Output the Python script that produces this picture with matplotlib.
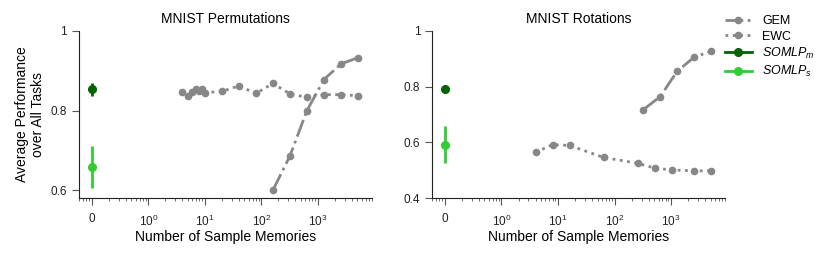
import numpy as np
import matplotlib
matplotlib.use("Agg")
import matplotlib.pyplot as plt
from matplotlib.lines import Line2D

plt.rcParams["font.family"] = ["Liberation Sans", "DejaVu Sans"]
plt.rcParams["mathtext.fontset"] = "custom"
plt.rcParams["mathtext.rm"] = "Liberation Sans"
plt.rcParams["mathtext.it"] = "Liberation Sans:italic"

# position used for the "0 memories" models on the log axis
zero_pos = 0.1

# MNIST Permutations
perm_ewc_x = [4, 5, 6, 7, 8, 9, 10, 20, 40, 80, 160, 320, 640, 1280, 2560, 5120]
perm_ewc_y = [0.847, 0.836, 0.846, 0.854, 0.848, 0.854, 0.845, 0.848, 0.862,
              0.843, 0.868, 0.842, 0.833, 0.840, 0.840, 0.837]
perm_gem_x = [160, 320, 640, 1280, 2560, 5120]
perm_gem_y = [0.600, 0.686, 0.800, 0.878, 0.917, 0.933]
perm_somlp_m = (0.853, 0.017)
perm_somlp_s = (0.659, 0.053)

# MNIST Rotations
rot_ewc_x = [4, 8, 16, 64, 256, 512, 1024, 2560, 5120]
rot_ewc_y = [0.564, 0.592, 0.589, 0.546, 0.525, 0.508, 0.501, 0.498, 0.498]
rot_gem_x = [320, 640, 1280, 2560, 5120]
rot_gem_y = [0.717, 0.764, 0.855, 0.906, 0.927]
rot_somlp_m = (0.793, 0.004)
rot_somlp_s = (0.592, 0.066)

xticks = [zero_pos, 1, 10, 100, 1000]
xticklabels = ["0", "$10^0$", "$10^1$", "$10^2$", "$10^3$"]

gray = "#878787"
dark = "#006400"
light = "#33cc33"

fig = plt.figure(figsize=(8.3, 2.6), dpi=100)
ax1 = fig.add_axes([0.095, 0.238, 0.353, 0.643])
ax2 = fig.add_axes([0.5205, 0.238, 0.353, 0.643])


def draw(ax, title, gem_x, gem_y, ewc_x, ewc_y, som_m, som_s, ylim, yticks, yticklabels):
    ax.plot(gem_x, gem_y, "-.", color=gray, marker="o", markersize=4.5, lw=2)
    ax.plot(ewc_x, ewc_y, ":", color=gray, marker="o", markersize=4.5, lw=2)
    ax.errorbar([zero_pos], [som_m[0]], yerr=[som_m[1]], fmt="o", color=dark,
                markersize=5.5, elinewidth=2)
    ax.errorbar([zero_pos], [som_s[0]], yerr=[som_s[1]], fmt="o", color=light,
                markersize=5.5, elinewidth=2)
    ax.set_xscale("log")
    ax.set_xlim(0.059, 9000)
    ax.set_ylim(*ylim)
    ax.set_xticks(xticks)
    ax.set_xticklabels(xticklabels)
    ax.set_yticks(yticks)
    ax.set_yticklabels(yticklabels)
    ax.set_title(title, fontsize=10)
    ax.set_xlabel("Number of Sample Memories", fontsize=10, labelpad=1)
    for s in ["top", "right"]:
        ax.spines[s].set_visible(False)
    for s in ["left", "bottom"]:
        ax.spines[s].set_color("#222222")
    ax.tick_params(axis="both", which="major", labelsize=8.5, length=5, color="#555555", labelcolor="#222222")
    ax.tick_params(axis="x", which="major", pad=6)
    ax.tick_params(axis="x", which="minor", length=2.5, color="#555555")


draw(ax1, "MNIST Permutations", perm_gem_x, perm_gem_y, perm_ewc_x, perm_ewc_y,
     perm_somlp_m, perm_somlp_s, (0.58, 1.0), [0.6, 0.8, 1.0], ["0.6", "0.8", "1"])
draw(ax2, "MNIST Rotations", rot_gem_x, rot_gem_y, rot_ewc_x, rot_ewc_y,
     rot_somlp_m, rot_somlp_s, (0.4, 1.0), [0.4, 0.6, 0.8, 1.0], ["0.4", "0.6", "0.8", "1"])

ax1.set_ylabel("Average Performance\nover All Tasks", fontsize=10)

handles = [
    Line2D([], [], color=gray, ls="-.", lw=2, marker="o", markersize=4.5),
    Line2D([], [], color=gray, ls=":", lw=2, marker="o", markersize=4.5),
    Line2D([], [], color=dark, ls="-", lw=2, marker="o", markersize=5.5),
    Line2D([], [], color=light, ls="-", lw=2, marker="o", markersize=5.5),
]
labels = ["GEM", "EWC", "$SOMLP_m$", "$SOMLP_s$"]
ax2.legend(handles, labels, loc="upper left", bbox_to_anchor=(0.96, 1.16), frameon=False,
           fontsize=9, handlelength=2.2, labelspacing=0.25)

fig.savefig("out.png", dpi=100)
